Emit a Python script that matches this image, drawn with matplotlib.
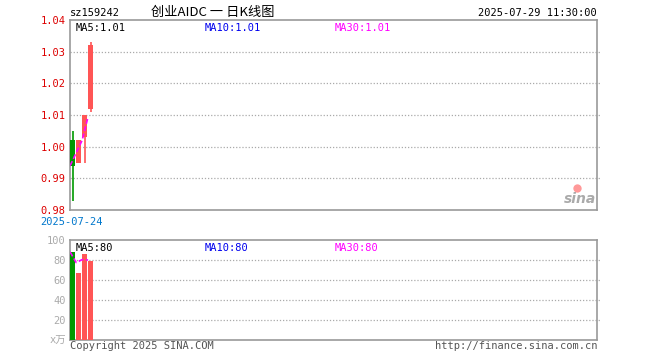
import matplotlib
matplotlib.use("Agg")
import matplotlib.pyplot as plt
import numpy as np

plt.rcParams['font.family'] = ['DejaVu Sans Mono', 'Noto Sans CJK SC']

# ---- data ----
dates = ["2025-07-24", "2025-07-25", "2025-07-28", "2025-07-29"]
opens = [1.002, 0.995, 1.003, 1.012]
closes = [0.994, 1.002, 1.010, 1.032]
highs = [1.005, 1.002, 1.010, 1.033]
lows = [0.983, 0.995, 0.995, 1.011]
volumes = [88, 67, 86, 79]
price_ticks = [0.98, 0.99, 1.00, 1.01, 1.02, 1.03, 1.04]
vol_ticks = [20, 40, 60, 80, 100]
ma_labels = ["MA5:1.01", "MA10:1.01", "MA30:1.01"]
vol_ma_labels = ["MA5:80", "MA10:80", "MA30:80"]
title = "创业AIDC 一 日K线图"
code = "sz159242"
stamp = "2025-07-29 11:30:00"

RED = "#ff5555"
GREEN = "#009900"
GRAY = "#999999"
TICKRED = "#dd0000"
MAG = "#ff00ff"

n_slots = 87.8
xs = np.arange(len(closes))
ma5 = np.cumsum(closes) / (xs + 1)
vma5 = np.cumsum(volumes) / (xs + 1)

fig = plt.figure(figsize=(6.6, 3.6), dpi=100)
W, H = 660, 360

def ax_rect(l, t, r, b):
    return [l / W, 1 - b / H, (r - l) / W, (b - t) / H]

ax = fig.add_axes(ax_rect(70, 20, 597, 210))
axv = fig.add_axes(ax_rect(70, 240, 597, 340))

for a in (ax, axv):
    a.set_xlim(-0.42, n_slots - 0.42)
    for s in a.spines.values():
        s.set_color(GRAY)
        s.set_linewidth(1.2)
    a.set_xticks([])
    a.tick_params(axis='y', length=0, pad=3)

# candles
bw = 0.8
for i in xs:
    up = closes[i] >= opens[i]
    c = RED if up else GREEN
    ax.vlines(i, lows[i], highs[i], color=c, linewidth=1.2, zorder=3)
    lo, hi = min(opens[i], closes[i]), max(opens[i], closes[i])
    ax.bar(i, hi - lo, bottom=lo, width=bw, color=c, zorder=4, linewidth=0)
ax.plot(xs - 0.4, ma5, color=MAG, linestyle=(0, (3, 1.5)), linewidth=1.2, zorder=5)

ax.set_ylim(price_ticks[0], price_ticks[-1])
ax.set_yticks(price_ticks)
ax.set_yticklabels([f"{v:.2f}" for v in price_ticks], color=TICKRED, fontsize=7.5)
for v in price_ticks[1:-1]:
    ax.axhline(v, color="#aaaaaa", linestyle=(0, (1, 1.5)), linewidth=0.9, zorder=1, xmax=1.006, clip_on=False)

ax.text(0.01, 0.985, ma_labels[0], transform=ax.transAxes, color="black", fontsize=7.5, va='top', ha='left')
ax.text(0.255, 0.985, ma_labels[1], transform=ax.transAxes, color="#0000ee", fontsize=7.5, va='top', ha='left')
ax.text(0.502, 0.985, ma_labels[2], transform=ax.transAxes, color=MAG, fontsize=7.5, va='top', ha='left')

# sina logo approximation
ax.text(0.998, 0.02, "sina", transform=ax.transAxes, color="#aaaaaa", fontsize=10,
        fontstyle='italic', fontweight='bold', family='DejaVu Sans', ha='right', va='bottom')
ax.plot([0.962], [0.115], transform=ax.transAxes, marker='o', markersize=6,
        color="#ff9999", markeredgewidth=0, clip_on=False)

# volume
for i in xs:
    up = closes[i] >= opens[i]
    axv.bar(i, volumes[i], width=bw, color=RED if up else GREEN, linewidth=0, zorder=3)
axv.plot(xs - 0.4, vma5, color=MAG, linestyle=(0, (3, 1.5)), linewidth=1.2, zorder=5)
axv.set_ylim(0, 100)
axv.set_yticks([0] + vol_ticks)
axv.set_yticklabels(["x万"] + [str(v) for v in vol_ticks], color="#aaaaaa", fontsize=7.5)
for v in vol_ticks[:-1]:
    axv.axhline(v, color="#aaaaaa", linestyle=(0, (1, 1.5)), linewidth=0.9, zorder=1, xmax=1.006, clip_on=False)
axv.text(0.01, 0.97, vol_ma_labels[0], transform=axv.transAxes, color="black", fontsize=7.5, va='top', ha='left')
axv.text(0.255, 0.97, vol_ma_labels[1], transform=axv.transAxes, color="#0000ee", fontsize=7.5, va='top', ha='left')
axv.text(0.502, 0.97, vol_ma_labels[2], transform=axv.transAxes, color=MAG, fontsize=7.5, va='top', ha='left')

# header / footer texts
fig.text(70 / W, 1 - 13 / H, code, fontsize=7.5, ha='left', va='center', color='black')
fig.text(213 / W, 1 - 12 / H, title, fontsize=9.5, ha='center', va='center', color='black',
         family=['Noto Sans CJK SC', 'DejaVu Sans'])
fig.text(597 / W, 1 - 13 / H, stamp, fontsize=7.5, ha='right', va='center', color='black')
fig.text(40 / W, 1 - 222 / H, dates[0], fontsize=7.5, ha='left', va='center', color='#0077cc')
fig.text(70 / W, 1 - 346 / H, "Copyright 2025 SINA.COM", fontsize=7.5, ha='left', va='center', color='#555555')
fig.text(597 / W, 1 - 346 / H, "http://finance.sina.com.cn", fontsize=7.5, ha='right', va='center', color='#555555')

fig.savefig("out.png", dpi=100)
